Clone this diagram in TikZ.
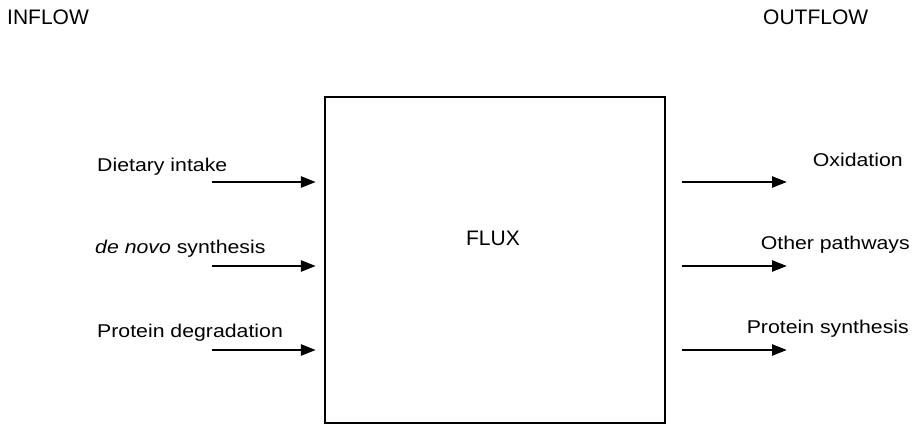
\documentclass[tikz,border=0pt]{standalone}
\usepackage{fontspec}
\setmainfont{Liberation Sans}
\newfontfamily\lblfont{Liberation Sans}[FakeStretch=1.15]
\usetikzlibrary{arrows.meta, positioning}
\tikzset{
  heading/.style={font=\fontsize{21}{25}\selectfont, inner sep=0pt},
  lbl/.style={font=\lblfont\fontsize{18.5}{22}\selectfont, inner sep=0pt},
  flow/.style={line width=2.5pt, -{Triangle[length=15pt, width=11pt]}},
}

\begin{document}
\begin{tikzpicture}[x=1pt, y=-1pt]
\useasboundingbox (0,0) rectangle (914,425);

% the pool
\node[draw, line width=2.3pt, minimum width=340pt, minimum height=326pt,
      inner sep=0pt] (flux) at (495,260) {};
\node[heading, anchor=base] (fluxtext) at (493,246) {FLUX};

% headings
\node[heading, anchor=base west] (inflow) at (7,25) {INFLOW};
\node[heading, anchor=base west] (outflow) at (763,25) {OUTFLOW};

% inflow side
\node[lbl, anchor=base west] (diet) at (97,172) {Dietary intake};
\node[lbl, anchor=base west] (denovo) at (95,254) {\textit{de novo} synthesis};
\node[lbl, anchor=base west] (degr) at (97,337) {Protein degradation};
\coordinate (diet-in) at (212,182);
\coordinate (denovo-in) at (212,266);
\coordinate (degr-in) at (212,350);
\draw[flow, shorten >=8pt] (diet-in) -- (diet-in -| flux.west);
\draw[flow, shorten >=8pt] (denovo-in) -- (denovo-in -| flux.west);
\draw[flow, shorten >=8pt] (degr-in) -- (degr-in -| flux.west);

% outflow side
\node[lbl, anchor=base east] (oxid) at (903,167) {Oxidation};
\node[lbl, anchor=base east] (other) at (910,250) {Other pathways};
\node[lbl, anchor=base east] (psyn) at (909,333) {Protein synthesis};
\coordinate (oxid-out) at (787,182);
\coordinate (other-out) at (787,266);
\coordinate (psyn-out) at (787,350);
\draw[flow, shorten <=16pt] (oxid-out -| flux.east) -- (oxid-out);
\draw[flow, shorten <=16pt] (other-out -| flux.east) -- (other-out);
\draw[flow, shorten <=16pt] (psyn-out -| flux.east) -- (psyn-out);
\end{tikzpicture}
\end{document}
